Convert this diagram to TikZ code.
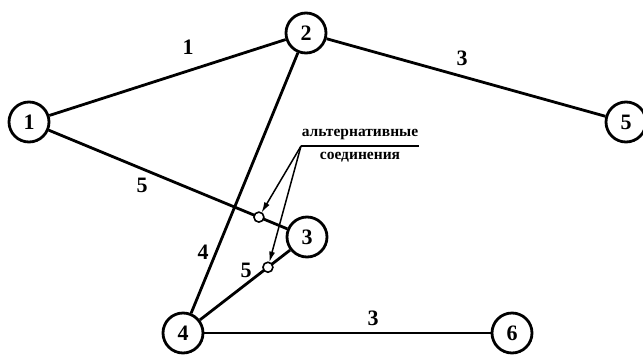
\documentclass[tikz,border=0pt]{standalone}
\usepackage{fontspec}
\setmainfont{Liberation Serif}
\usepackage{tikz}
\usetikzlibrary{arrows.meta,calc}

\begin{document}
\begin{tikzpicture}[x=1pt,y=-1pt,font=\bfseries\fontsize{22}{24}\selectfont,
  vert/.style={circle,draw=black,line width=2.8pt,fill=white,minimum size=40pt,inner sep=0pt},
  junc/.style={circle,draw=black,line width=1.6pt,fill=white,minimum size=10pt,inner sep=0pt},
  edge/.style={line width=2.8pt,draw=black},
  arr/.style={-{Latex[length=11pt,width=6pt]},line width=1.5pt,draw=black,shorten >=-1pt},
  lbl/.style={font=\bfseries\fontsize{22}{24}\selectfont},
  note/.style={font=\bfseries\fontsize{15.5}{17}\selectfont,inner sep=1pt}]
\useasboundingbox (0,0) rectangle (643,354);
% vertices
\node[vert] (n1) at (29,122) {1};
\node[vert] (n2) at (306,33) {2};
\node[vert] (n3) at (307,237) {3};
\node[vert] (n4) at (183,333) {4};
\node[vert] (n5) at (626,122) {5};
\node[vert] (n6) at (512,333) {6};
% connections
\draw[edge] (n1)--(n2);
\draw[edge] (n2)--(n5);
\draw[edge] (n1)--(n3);
\draw[edge] (n2)--(n4);
\draw[edge] (n4)--(n3);
\draw[edge] (n4)--(n6);
% weights
\node[lbl] (w12) at (188,47) {1};
\node[lbl] (w25) at (462,58) {3};
\node[lbl] (w13) at (142,185) {5};
\node[lbl] (w24) at (203,252) {4};
\node[lbl] (w43) at (246,270) {5};
\node[lbl] (w46) at (373,318) {3};
% alternative junctions
\node[junc] (j1) at ($(n1)!0.827!(n3)$) {};
\node[junc] (j2) at ($(n4)!0.685!(n3)$) {};
% note
\node[note] (alt) at (360,134) {альтернативные};
\node[note] (con) at (360,157) {соединения};
\coordinate (src) at (301,146);
\draw[line width=1.4pt] (src)--(alt.south east |- src);
\draw[arr] (src)--(j1);
\draw[arr] (src)--(j2);
\end{tikzpicture}
\end{document}
